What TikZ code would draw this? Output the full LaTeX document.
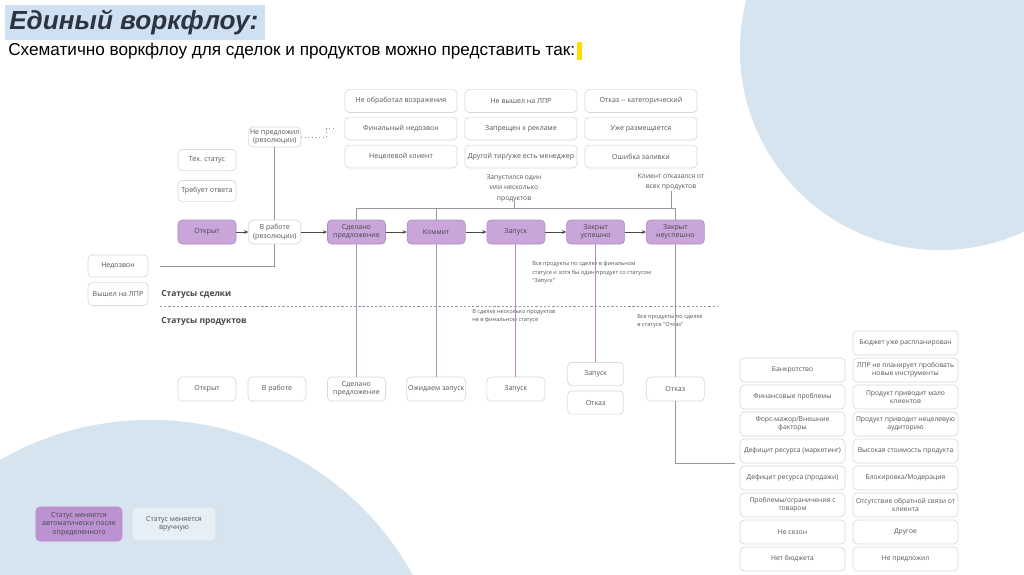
\documentclass[tikz,border=0pt]{standalone}
\usepackage{fontspec}
\setmainfont{Liberation Sans}
\newfontfamily\boxfont{Open Sans}
\usetikzlibrary{positioning, arrows.meta}
\definecolor{mypurple}{RGB}{201,166,217}
\definecolor{mypurpledark}{RGB}{180,140,200}
\definecolor{mylegend}{RGB}{188,146,210}
\definecolor{myborder}{RGB}{214,218,224}
\definecolor{mytext}{RGB}{85,85,90}
\definecolor{mygrayline}{RGB}{150,150,155}
\definecolor{mydark}{RGB}{70,70,75}
\definecolor{mybg}{RGB}{214,228,240}
\definecolor{hdrblue}{RGB}{206,224,242}
\definecolor{mytitle}{RGB}{44,52,64}
\definecolor{mycursor}{RGB}{255,220,0}
\tikzset{
  box/.style={rectangle, draw=myborder, fill=white, rounded corners=3pt,
    minimum width=1.45cm, minimum height=0.6cm, align=center, inner sep=1pt,
    font=\boxfont\fontsize{5}{6}\selectfont, text=mytext, line width=0.5pt},
  purplebox/.style={box, fill=mypurple, draw=mypurpledark, text=mydark},
  reason/.style={box, minimum width=2.8cm, minimum height=0.57cm},
  cause/.style={box, minimum width=2.625cm, minimum height=0.6cm,
    font=\boxfont\fontsize{4.8}{5.8}\selectfont},
  note/.style={align=left, inner sep=0pt, text=mytext,
    font=\boxfont\fontsize{4}{6}\selectfont},
  cond/.style={align=center, inner sep=0pt, text=mytext,
    font=\boxfont\fontsize{4.8}{7.4}\selectfont},
  section/.style={anchor=west, inner sep=0pt, text=mydark,
    font=\boxfont\fontsize{6}{7}\selectfont\bfseries},
  link/.style={draw=mygrayline, line width=0.6pt},
  arrow/.style={-{Stealth[length=3pt, width=2.6pt]}, draw=mydark, line width=0.6pt},
  prodline/.style={draw=mypurpledark, line width=0.7pt}
}
\begin{document}
\begin{tikzpicture}[x=0.025cm, y=-0.025cm]
  \useasboundingbox (0,0) rectangle (1024,574);
  \begin{scope}
    \clip (0,0) rectangle (1024,574);
    \fill[white] (0,0) rectangle (1024,574);
    \fill[mybg] (940,50) circle[radius=5cm];
    \fill[mybg] (150,720) circle[radius=7.5cm];
  \end{scope}

  % title
  \fill[hdrblue] (5,5) rectangle (265,40);
  \node[anchor=west, inner sep=0pt, text=mytitle,
    font=\fontsize{18.6}{22}\selectfont\bfseries\itshape] (title) at (9,22) {Единый воркфлоу:};
  \node[anchor=west, inner sep=0pt, font=\fontsize{12.2}{14}\selectfont] (subtitle) at (8,51)
    {Схематично воркфлоу для сделок и продуктов можно представить так:};
  \fill[mycursor] ([xshift=1pt]subtitle.east |- 0,42) rectangle ++(5,18);

  % deal statuses
  \node[purplebox] (otkr) at (207,232) {Открыт};
  \node[box, right=0.3cm of otkr, minimum width=1.3cm] (vrab) {В работе\\(резолюции)};
  \node[purplebox, right=0.65cm of vrab] (sdel) {Сделано\\предложение};
  \node[purplebox, right=0.525cm of sdel] (komm) {Коммит};
  \node[purplebox, right=0.525cm of komm] (zap) {Запуск};
  \node[purplebox, right=0.525cm of zap] (zus) {Закрыт\\успешно};
  \node[purplebox, right=0.525cm of zus] (zneus) {Закрыт\\неуспешно};

  \node[box, minimum width=1.28cm, minimum height=0.5cm] (nepred) at (vrab |- 0,137) {Не предложил\\(резолюции)};
  \node[box, minimum height=0.53cm] (tech) at (207,160) {Тех. статус};
  \node[box, minimum height=0.53cm] (treb) at (207,191) {Требует ответа};
  \node[box, minimum width=1.5cm, minimum height=0.55cm] (nedoz) at (118,266) {Недозвон};
  \node[box, minimum width=1.5cm, minimum height=0.57cm] (vyshel) at (118,294) {Вышел на ЛПР};

  % reasons
  \node[reason] (r11) at (401,101) {Не обработал возражения};
  \node[reason] (r21) at (401,128.5) {Финальный недозвон};
  \node[reason] (r31) at (401,156.5) {Нецелевой клиент};
  \node[reason] (r12) at (521,101) {Не вышел на ЛПР};
  \node[reason] (r22) at (521,128.5) {Запрещен к рекламе};
  \node[reason] (r32) at (521,156.5) {Другой тир/уже есть менеджер};
  \node[reason] (r13) at (641,101) {Отказ -- категорический};
  \node[reason] (r23) at (641,128.5) {Уже размещается};
  \node[reason] (r33) at (641,156.5) {Ошибка заливки};

  \node[cond] (lzap) at (514,188) {Запустился один\\или несколько\\продуктов};
  \node[cond] (lotk) at (671,182) {Клиент отказался от\\всех продуктов};

  \draw[arrow] (otkr) -- (vrab);
  \draw[arrow] (vrab) -- (sdel);
  \draw[arrow] (sdel) -- (komm);
  \draw[arrow] (komm) -- (zap);
  \draw[arrow] (zap) -- (zus);
  \draw[arrow] (zus) -- (zneus);
  \draw[link] (vrab.north) -- (nepred.south);
  \draw[link, dotted] (nepred.east) -- ++(25,0) |- ([xshift=-0.25cm]r21.west);
  \draw[link] ([xshift=0.3cm]nedoz.east) -| (vrab.south);
  \coordinate (bus) at (0,208);
  \draw[link] (sdel.north) |- (zneus.north |- bus) -- (zneus.north);
  \draw[link] (komm.north) -- (komm.north |- bus);
  \draw[link] (lzap.south) -- (lzap.south |- bus);
  \draw[link] (lotk.south) -- (lotk.south |- bus);

  % split
  \node[section] (sdeals) at (161,294) {Статусы сделки};
  \node[section] (sprods) at (161,321) {Статусы продуктов};
  \draw[link, dash pattern=on 1.6pt off 1.4pt] (160,306) -- (717,306);

  \node[note, anchor=north west] (n1) at (532,261)
    {Все продукты по сделке в финальном\\статусе и хотя бы один продукт со статусом\\"Запуск"};
  \node[note, anchor=north west] (n2) at (472,309)
    {В сделке несколько продуктов\\не в финальном статусе};
  \node[note, anchor=north west] (n3) at (637,314)
    {Все продукты по сделке\\в статусе "Отказ"};

  % product statuses
  \node[box] (potkr) at (otkr |- 0,389) {Открыт};
  \node[box] (pvrab) at (277,389) {В работе};
  \node[box] (psdel) at (sdel |- 0,389) {Сделано\\предложение};
  \node[box] (pozh) at (komm |- 0,389) {Ожидаем запуск};
  \node[box] (pzap) at (zap |- 0,389) {Запуск};
  \node[box, minimum width=1.4cm, minimum height=0.58cm] (pzap2) at (zus |- 0,374) {Запуск};
  \node[box, minimum width=1.4cm, minimum height=0.58cm] (potk2) at (zus |- 0,402.5) {Отказ};
  \node[box] (potkaz) at (zneus |- 0,389) {Отказ};

  \draw[prodline] (sdel) -- (psdel);
  \draw[prodline] (komm) -- (pozh);
  \draw[prodline] (zap) -- (pzap);
  \draw[prodline] (zus) -- (pzap2);
  \draw[link] (zneus) -- (potkaz);
  \coordinate (cend) at (735,463);
  \draw[link] (potkaz.south) |- (cend);

  % refusal causes
  \node[cause] (c1) at (905.5,343) {Бюджет уже распланирован};
  \node[cause] (c2) at (905.5,370) {ЛПР не планирует пробовать\\новые инструменты};
  \node[cause] (c3) at (905.5,397) {Продукт приводит мало\\клиентов};
  \node[cause] (c4) at (905.5,424) {Продукт приводит нецелевую\\аудиторию};
  \node[cause] (c5) at (905.5,451) {Высокая стоимость продукта};
  \node[cause] (c6) at (905.5,478) {Блокировка/Модерация};
  \node[cause] (c7) at (905.5,505) {Отсутствие обратной связи от\\клиента};
  \node[cause] (c8) at (905.5,532) {Другое};
  \node[cause] (c9) at (905.5,559) {Не предложил};
  \node[cause] (b1) at (792.5,370) {Банкротство};
  \node[cause] (b2) at (792.5,397) {Финансовые проблемы};
  \node[cause] (b3) at (792.5,424) {Форс-мажор/Внешние\\факторы};
  \node[cause] (b4) at (792.5,451) {Дефицит ресурса (маркетинг)};
  \node[cause] (b5) at (792.5,478) {Дефицит ресурса (продажи)};
  \node[cause] (b6) at (792.5,505) {Проблемы/ограничения с\\товаром};
  \node[cause] (b7) at (792.5,532) {Не сезон};
  \node[cause] (b8) at (792.5,559) {Нет бюджета};

  % legend
  \node[purplebox, fill=mylegend, minimum width=2.15cm, minimum height=0.85cm] (lauto) at (79,524)
    {Статус меняется\\автоматически после\\определенного};
  \node[box, fill=mybg!60!white, minimum width=2.1cm, minimum height=0.85cm] (lhand) at (174,524)
    {Статус меняется\\вручную};
\end{tikzpicture}
\end{document}
